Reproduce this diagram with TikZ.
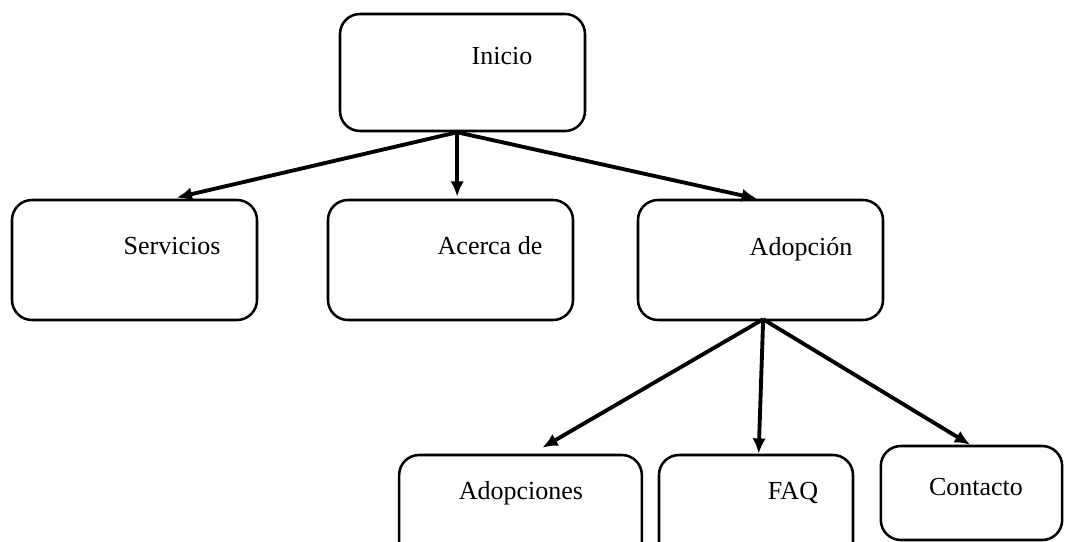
\documentclass[tikz,border=0pt]{standalone}
\usepackage{fontspec}
\setmainfont{Liberation Serif}
\usetikzlibrary{positioning,arrows.meta}

\begin{document}
\begin{tikzpicture}[x=0.75pt, y=-0.75pt, >={Latex[length=11.5pt,width=10pt]}, semithick,
    box/.style={draw, line width=1.9pt, rounded corners=15pt, inner sep=0pt, minimum width=183.75pt, minimum height=90pt},
    lbl/.style={inner sep=0pt, anchor=base, font=\fontsize{19.5}{22}\selectfont},
    link/.style={->, line width=2.9pt}]
   \useasboundingbox (0,0) rectangle (1065,542);
   \clip (0,0) rectangle (1065,542);
   % top level
   \node[box, minimum height=87.75pt] (inicio) at (462.5,72.5) {};
   \node[lbl] (inicio_t) at (502,65) {Inicio};
   \node[box] (servicios) at (134.5,260) {};
   \node[lbl] (servicios_t) at (172,254) {Servicios};
   \node[box] (acerca) at (450.5,260) {};
   \node[lbl] (acerca_t) at (490,254) {Acerca de};
   \node[box] (adopcion) at (760.5,260) {};
   \node[lbl] (adopcion_t) at (801,255) {Adopción};
   % second level
   \node[box, minimum width=182pt, minimum height=82.5pt] (adopciones) at (520.5,510) {};
   \node[lbl] (adopciones_t) at (521,499) {Adopciones};
   \node[box, minimum width=145.5pt, minimum height=82.5pt] (faq) at (756,510) {};
   \node[lbl] (faq_t) at (793,499) {FAQ};
   \node[box, minimum width=136pt, minimum height=70.5pt] (contacto) at (971.5,493) {};
   \node[lbl] (contacto_t) at (976,495) {Contacto};
   \draw[link, shorten >=3.75pt] ([xshift=-4pt]inicio.south) -- ([xshift=28pt]servicios.north);
   \draw[link, shorten >=1.5pt] ([xshift=-4pt]inicio.south) -- ([xshift=5pt]acerca.north);
   \draw[link] ([xshift=-4pt]inicio.south) -- ([xshift=-2.6pt]adopcion.north);
   \draw[link, shorten >=9pt] ([xshift=2pt, yshift=1.5pt]adopcion.south) -- ([xshift=8.6pt]adopciones.north);
   \draw[link] ([xshift=2pt, yshift=1.5pt]adopcion.south) -- ([xshift=2pt]faq.north);
   \draw[link] ([xshift=2pt, yshift=1.5pt]adopcion.south) -- ([xshift=-1pt]contacto.north);
\end{tikzpicture}
\end{document}
